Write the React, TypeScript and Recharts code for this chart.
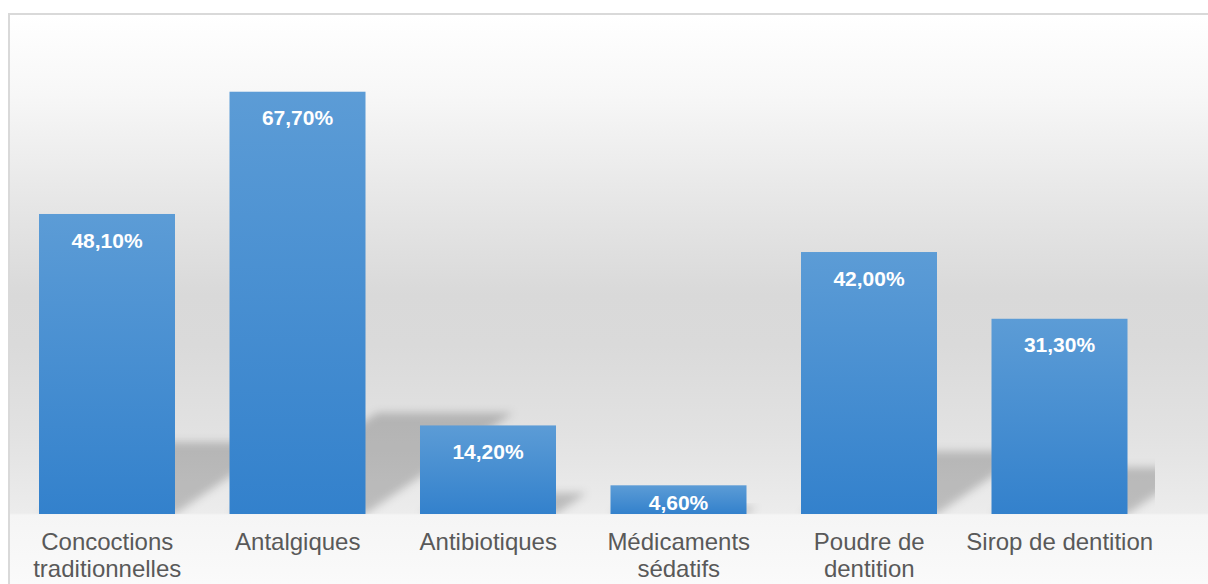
import * as R from "recharts"
import { Bar, BarChart, LabelList, XAxis, YAxis } from "recharts"

const categories = [
  "Concoctions\ntraditionnelles",
  "Antalgiques",
  "Antibiotiques",
  "Médicaments\nsédatifs",
  "Poudre de\ndentition",
  "Sirop de dentition",
]
const percentages = [48.1, 67.7, 14.2, 4.6, 42.0, 31.3]

const data = categories.map((name, i) => ({ name, value: percentages[i] }))

const FONT = "Arial, 'Liberation Sans', sans-serif"
const usePlot: undefined | (() => any) = (R as any).usePlotArea

function ShadowBar(props: any) {
  const { x, y, width, height, index } = props
  const plot = usePlot ? usePlot() : undefined
  const bottom = y + height
  const rise = height * 0.24
  const shift = height * 0.35
  const pts = `${x},${bottom} ${x + width},${bottom} ${x + width + shift},${bottom - rise} ${x + shift},${bottom - rise}`
  const clipId = `shadow-clip-${index}`
  return (
    <g>
      {plot && (
        <clipPath id={clipId}>
          <rect x={plot.x} y={plot.y} width={plot.width} height={plot.height} />
        </clipPath>
      )}
      <g clipPath={plot ? `url(#${clipId})` : undefined}>
        <polygon points={pts} fill="#000" fillOpacity={0.2} filter="url(#shadowBlur)" />
      </g>
      <rect x={x} y={y} width={width} height={height} fill="url(#barGrad)" />
    </g>
  )
}

function ValueLabel(props: any) {
  const { x, y, width, height, value } = props
  const offset = Math.min(26, height - 12)
  return (
    <text
      x={x + width / 2}
      y={y + offset}
      dy="0.36em"
      textAnchor="middle"
      fill="#fff"
      fontFamily={FONT}
      fontWeight="bold"
      fontSize={21}
    >
      {`${Number(value).toFixed(2).replace(".", ",")}%`}
    </text>
  )
}

function CategoryTick(props: any) {
  const { x, y, payload } = props
  const lines = String(payload.value).split("\n")
  return (
    <text x={x} y={y + 36} textAnchor="middle" fill="#595959" fontFamily={FONT} fontSize={24}>
      {lines.map((line, i) => (
        <tspan key={i} x={x} dy={i === 0 ? 0 : 27}>
          {line}
        </tspan>
      ))}
    </text>
  )
}

export default function App() {
  return (
    <div
      style={{
        position: "fixed",
        left: 0,
        top: 0,
        width: 1208,
        height: 584,
        overflow: "hidden",
        background: "#fff",
      }}
    >
      <div
        style={{
          position: "absolute",
          left: 8,
          top: 13,
          width: 1260,
          height: 640,
          border: "2px solid #d9d9d9",
          background:
            "linear-gradient(to bottom, #ffffff 0px, #f7f7f7 80px, #e6e6e6 190px, #d9d9d9 280px, #dadada 330px, #e2e2e2 420px, #ececec 498px, #f5f5f5 500px, #fafafa 569px, #ffffff 640px)",
        }}
      >
        <BarChart
          width={1240}
          height={579}
          data={data}
          margin={{ top: 0, right: 95, left: 2, bottom: 0 }}
        >
          <defs>
            <linearGradient id="barGrad" x1="0" y1="0" x2="0" y2="1">
              <stop offset="0%" stopColor="#5c9cd6" />
              <stop offset="100%" stopColor="#3381cc" />
            </linearGradient>
            <filter id="shadowBlur" x="-50%" y="-50%" width="200%" height="200%">
              <feGaussianBlur stdDeviation="4" />
            </filter>
          </defs>
          <XAxis
            dataKey="name"
            axisLine={false}
            tickLine={false}
            tickSize={0}
            tickMargin={0}
            height={80}
            interval={0}
            tick={<CategoryTick />}
          />
          <YAxis hide domain={[0, 80]} />
          <Bar dataKey="value" barSize={136} shape={(p: any) => <ShadowBar {...p} />} isAnimationActive={false}>
            <LabelList dataKey="value" content={<ValueLabel />} />
          </Bar>
        </BarChart>
      </div>
    </div>
  )
}
